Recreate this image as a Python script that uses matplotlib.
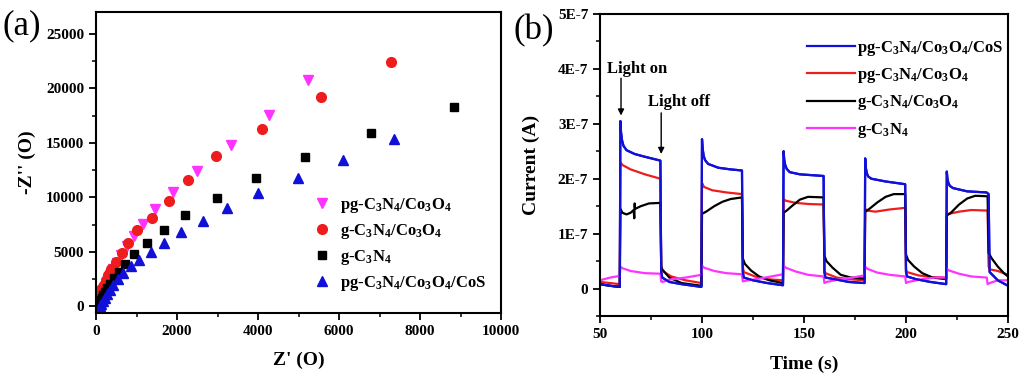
import matplotlib
matplotlib.use('Agg')
import matplotlib.pyplot as plt
import numpy as np
from matplotlib.ticker import MultipleLocator, FixedLocator

plt.rcParams['font.family'] = ['Liberation Serif', 'DejaVu Serif']
plt.rcParams['font.weight'] = 'bold'
plt.rcParams['mathtext.fontset'] = 'custom'
plt.rcParams['mathtext.rm'] = 'Liberation Serif:bold'
plt.rcParams['mathtext.default'] = 'rm'

# ---- panel (a): Nyquist plot data (Z', -Z'') ----
pg_co_x = [5243, 4263, 3325, 2502, 1909, 1465, 1150, 930, 760, 620, 510, 420, 345, 285,
           235, 190, 155, 125, 100, 80, 62, 48, 35]
pg_co_y = [20800, 17600, 14800, 12450, 10500, 8950, 7600, 6450, 5500, 4700, 4000, 3400,
           2900, 2450, 2050, 1700, 1400, 1100, 850, 620, 420, 250, 100]
g_co_x = [7284, 5556, 4099, 2955, 2263, 1811, 1383, 1021, 798, 634, 486, 380, 300, 240,
          190, 150, 118, 92, 72, 55, 42, 30]
g_co_y = [22400, 19200, 16300, 13800, 11600, 9650, 8150, 6970, 5850, 4870, 4050, 3400,
          2850, 2400, 2000, 1650, 1350, 1050, 800, 580, 380, 200]
g_x = [8831, 6790, 5160, 3951, 2979, 2206, 1671, 1259, 947, 720, 560, 440, 350, 280, 225,
       180, 145, 115, 90, 70]
g_y = [18300, 15900, 13700, 11750, 9950, 8400, 7050, 5850, 4800, 3900, 3200, 2600, 2100,
       1700, 1350, 1050, 780, 550, 350, 180]
pg_cos_x = [7358, 6091, 4979, 4000, 3235, 2650, 2107, 1687, 1350, 1070, 864, 675, 540, 430,
            340, 270, 215, 170, 135, 110, 90]
pg_cos_y = [15350, 13400, 11800, 10400, 9050, 7820, 6800, 5850, 5000, 4300, 3700, 3050,
            2500, 2000, 1550, 1150, 800, 500, 230, 0, -250]

# ---- panel (b): photocurrent data (time in s, current in 1E-7 A) ----
blue_t = [50, 55, 59.7, 60, 60.3, 60.8, 61.5, 63, 67, 72, 79.6, 80, 80.5, 84, 90, 99.7,
          100, 100.3, 100.8, 101.5, 103, 108, 114, 119.6, 120, 120.5, 125, 132, 139.7,
          140, 140.3, 140.8, 141.5, 143, 148, 159.6, 160, 160.5, 165, 172, 179.7,
          180, 180.3, 180.8, 181.5, 183, 190, 199.6, 200, 200.5, 205, 212, 219.7,
          220, 220.3, 220.8, 221.5, 223, 230, 239.5, 240.5, 241, 245, 250]
blue_i = [0.08, 0.05, 0.03, 3.05, 2.85, 2.7, 2.6, 2.52, 2.45, 2.4, 2.33, 0.3, 0.2, 0.12, 0.08, 0.03,
          2.72, 2.55, 2.42, 2.34, 2.27, 2.2, 2.17, 2.15, 0.3, 0.2, 0.15, 0.1, 0.06,
          2.5, 2.35, 2.25, 2.18, 2.12, 2.08, 2.05, 0.3, 0.2, 0.17, 0.12, 0.1,
          2.37, 2.2, 2.1, 2.04, 2.0, 1.95, 1.9, 0.3, 0.22, 0.17, 0.12, 0.08,
          2.13, 2.0, 1.92, 1.87, 1.83, 1.77, 1.75, 1.72, 0.3, 0.15, 0.05]
red_t = [50, 55, 59.7, 60, 61, 65, 72, 79.6, 80, 80.5, 85, 92, 99.7,
         100, 101, 105, 112, 119.6, 120, 120.5, 126, 132, 139.7,
         140, 141, 146, 152, 159.6, 160, 160.5, 166, 172, 179.7,
         180, 181, 185, 192, 199.6, 200, 200.5, 206, 212, 219.7,
         220, 221, 226, 232, 240, 240.5, 241, 245, 250]
red_i = [0.12, 0.1, 0.08, 2.3, 2.25, 2.17, 2.08, 2.0, 0.4, 0.32, 0.22, 0.15, 0.1,
         1.92, 1.85, 1.79, 1.75, 1.72, 0.4, 0.3, 0.22, 0.17, 0.15,
         1.63, 1.6, 1.56, 1.54, 1.53, 0.35, 0.28, 0.2, 0.17, 0.15,
         1.45, 1.42, 1.4, 1.44, 1.47, 0.35, 0.3, 0.24, 0.21, 0.2,
         1.37, 1.36, 1.4, 1.43, 1.42, 0.4, 0.35, 0.32, 0.25]
black_t = [50, 55, 59.7, 60, 61, 63, 65, 66.5, 66.8, 67, 67.2, 70, 74, 79.6, 80, 80.5, 84, 90, 99.7,
           100, 102, 106, 110, 114, 119.6, 120, 121, 124, 128, 133, 139.7,
           140, 141.5, 144, 148, 152, 159.6, 160, 161, 164, 168, 173, 179.7,
           180, 182, 186, 190, 194, 199.6, 200, 201, 204, 208, 213, 219.7,
           220, 222, 226, 230, 234, 240, 240.5, 242, 245, 248, 250]
black_i = [0.08, 0.05, 0.03, 1.45, 1.38, 1.35, 1.38, 1.43, 1.28, 1.55, 1.45, 1.5, 1.55, 1.56,
           0.4, 0.35, 0.2, 0.1, 0.05,
           1.36, 1.4, 1.5, 1.58, 1.63, 1.66, 0.55, 0.45, 0.33, 0.22, 0.15, 0.1,
           1.38, 1.42, 1.5, 1.62, 1.67, 1.66, 0.6, 0.5, 0.38, 0.25, 0.2, 0.18,
           1.4, 1.45, 1.57, 1.67, 1.72, 1.72, 0.62, 0.52, 0.4, 0.28, 0.2, 0.17,
           1.33, 1.38, 1.53, 1.64, 1.69, 1.68, 0.65, 0.55, 0.4, 0.28, 0.22]
mag_t = [50, 55, 59.7, 60, 61, 65, 72, 79.6, 80, 80.5, 85, 92, 99.7,
         100, 101, 106, 112, 119.6, 120, 121, 128, 134, 139.7,
         140, 141, 146, 152, 159.6, 160, 161, 168, 174, 179.7,
         180, 181, 186, 192, 199.6, 200, 201, 208, 214, 219.7,
         220, 221, 226, 232, 239.6, 240, 241, 245, 250]
mag_i = [0.15, 0.2, 0.23, 0.4, 0.37, 0.32, 0.28, 0.27, 0.13, 0.12, 0.17, 0.2, 0.25,
         0.42, 0.38, 0.32, 0.28, 0.26, 0.13, 0.14, 0.18, 0.22, 0.26,
         0.42, 0.38, 0.31, 0.25, 0.22, 0.1, 0.12, 0.17, 0.2, 0.24,
         0.4, 0.36, 0.29, 0.25, 0.22, 0.1, 0.12, 0.17, 0.2, 0.2,
         0.36, 0.33, 0.27, 0.22, 0.2, 0.08, 0.1, 0.15, 0.15]

MAG = '#ff33ff'
RED = '#ee1c1c'
BLUE = '#1010d8'

fig = plt.figure(figsize=(10.24, 3.77), dpi=100)
axa = fig.add_axes([96 / 1024, 1 - 313 / 377, 405 / 1024, 301 / 377])
axb = fig.add_axes([600 / 1024, 1 - 316 / 377, 408 / 1024, 302 / 377])

# panel (a)
ms = 7
axa.plot(pg_co_x, pg_co_y, 'v', color=MAG, ms=ms, label='pg-C$_3$N$_4$/Co$_3$O$_4$')
axa.plot(g_co_x, g_co_y, 'o', color=RED, ms=ms, label='g-C$_3$N$_4$/Co$_3$O$_4$')
axa.plot(g_x, g_y, 's', color='black', ms=ms - 1, label='g-C$_3$N$_4$')
axa.plot(pg_cos_x, pg_cos_y, '^', color=BLUE, ms=ms, label='pg-C$_3$N$_4$/Co$_3$O$_4$/CoS')
axa.set_xlim(0, 10000)
axa.set_ylim(-600, 27000)
axa.xaxis.set_major_locator(MultipleLocator(2000))
axa.xaxis.set_minor_locator(MultipleLocator(1000))
axa.yaxis.set_major_locator(MultipleLocator(5000))
axa.yaxis.set_minor_locator(MultipleLocator(2500))
axa.set_xlabel("Z' (O)", fontsize=14, fontweight='bold', labelpad=10)
axa.set_ylabel("-Z'' (O)", fontsize=14, fontweight='bold', labelpad=7)
axa.legend(loc='upper left', bbox_to_anchor=(0.5, 0.41), frameon=False, fontsize=12,
           handletextpad=0.1, labelspacing=0.42, borderaxespad=0)
axa.text(-0.232, 1.01, '(a)', transform=axa.transAxes, fontsize=25, fontweight='normal',
         va='top', ha='left')

# panel (b)
lw = 1.6
axb.plot(blue_t, np.array(blue_i) * 1e-7, color=BLUE, lw=lw, label='pg-C$_3$N$_4$/Co$_3$O$_4$/CoS')
axb.plot(red_t, np.array(red_i) * 1e-7, color=RED, lw=lw, label='pg-C$_3$N$_4$/Co$_3$O$_4$')
axb.plot(black_t, np.array(black_i) * 1e-7, color='black', lw=lw, label='g-C$_3$N$_4$/Co$_3$O$_4$')
axb.plot(mag_t, np.array(mag_i) * 1e-7, color=MAG, lw=lw, label='g-C$_3$N$_4$')
# re-draw blue on top like the original
axb.plot(blue_t, np.array(blue_i) * 1e-7, color=BLUE, lw=lw)
axb.set_xlim(50, 250)
axb.set_ylim(-0.5e-7, 5e-7)
axb.xaxis.set_major_locator(MultipleLocator(50))
axb.xaxis.set_minor_locator(MultipleLocator(25))
yt = [0, 1e-7, 2e-7, 3e-7, 4e-7, 5e-7]
axb.yaxis.set_major_locator(FixedLocator(yt))
axb.set_yticklabels(['0', '1E-7', '2E-7', '3E-7', '4E-7', '5E-7'])
axb.yaxis.set_minor_locator(FixedLocator([-0.5e-7, 0.5e-7, 1.5e-7, 2.5e-7, 3.5e-7, 4.5e-7]))
axb.set_xlabel('Time (s)', fontsize=14, fontweight='bold', labelpad=11)
axb.set_ylabel('Current (A)', fontsize=14, fontweight='bold', labelpad=13)
axb.legend(loc='upper left', bbox_to_anchor=(0.49, 0.94), frameon=False, fontsize=12,
           handlelength=2.9, handletextpad=0.1, labelspacing=0.5, borderaxespad=0)
arr = dict(arrowstyle='-|>', color='black', lw=1, mutation_scale=9)
axb.annotate('', xy=(60.3, 3.1e-7), xytext=(60.3, 3.88e-7), arrowprops=arr)
axb.text(53.4, 4.0e-7, 'Light on', fontsize=12, fontweight='bold', ha='left', va='center')
axb.annotate('', xy=(80, 2.4e-7), xytext=(80, 3.25e-7), arrowprops=arr)
axb.text(73.5, 3.4e-7, 'Light off', fontsize=12, fontweight='bold', ha='left', va='center')
axb.text(-0.212, 1.0, '(b)', transform=axb.transAxes, fontsize=25, fontweight='normal',
         va='top', ha='left')

for ax in (axa, axb):
    for s in ax.spines.values():
        s.set_linewidth(1.5)
    ax.tick_params(which='major', direction='out', length=5, width=1.3, labelsize=11,
                   top=False, right=False)
    ax.tick_params(which='minor', direction='out', length=3, width=1.1, top=False, right=False)
    for lab in ax.get_xticklabels() + ax.get_yticklabels():
        lab.set_fontweight('bold')

fig.savefig('out.png', dpi=100)
